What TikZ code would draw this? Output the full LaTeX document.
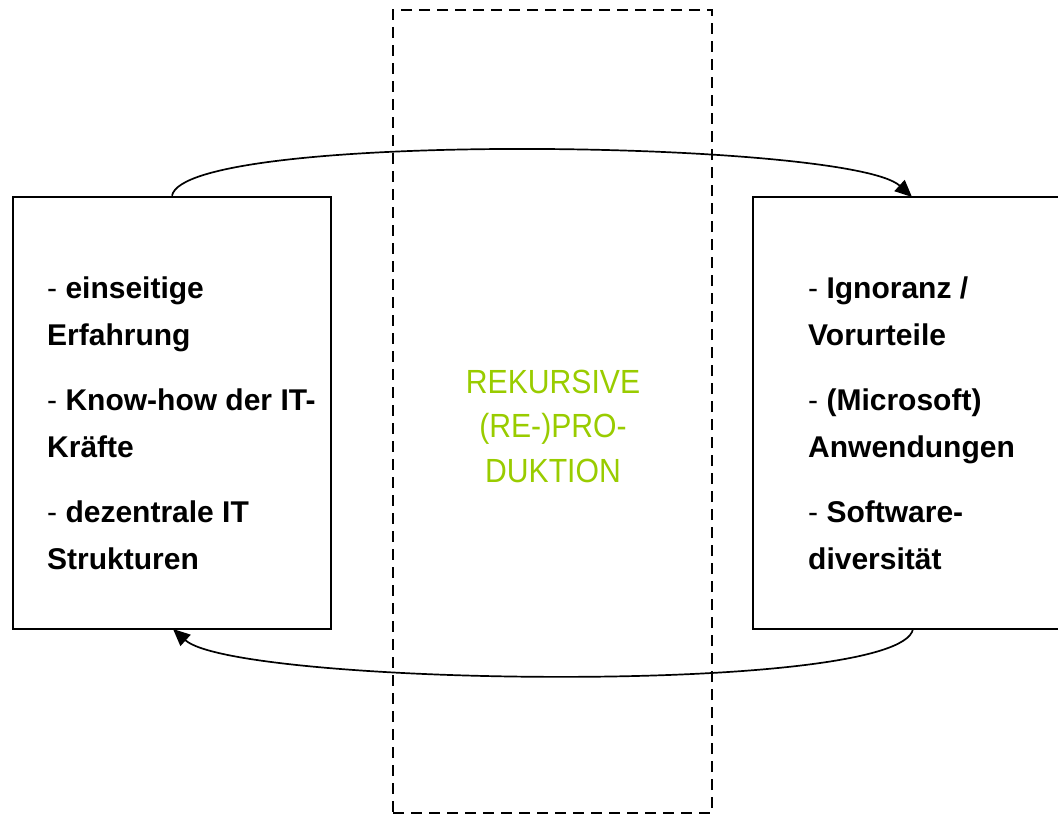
\documentclass[tikz,border=0pt]{standalone}
\usepackage{fontspec}
\setmainfont{Liberation Sans}
\newfontfamily\greenfont[FakeStretch=0.9]{Liberation Sans}
\usetikzlibrary{arrows.meta}
\definecolor{lime}{HTML}{99CC00}
\begin{document}
\begin{tikzpicture}[x=1pt,y=-1pt,
  box/.style={draw,line width=2.6pt,minimum width=318pt,minimum height=432pt,inner sep=0pt},
  frame/.style={draw,line width=2.8pt,dash pattern=on 11pt off 7pt,minimum width=319pt,minimum height=803pt,inner sep=0pt},
  itemtext/.style={font=\fontsize{30}{47}\selectfont\bfseries,align=left,inner sep=0pt,anchor=base west},
  reko/.style={font=\greenfont\fontsize{33.5}{44.5}\selectfont,text=lime,align=center,inner sep=0pt,anchor=base},
  arc/.style={line width=1.7pt,-{Triangle[length=17pt,width=15pt]}}]
\useasboundingbox (0,0) rectangle (1058,816);
\node[frame] (M) at (552.5,411.5) {};
\node[box] (L) at (172,413) {};
\node[box,minimum width=330pt] (R) at (918,413) {};
\coordinate (Rtop) at (912,197);
\coordinate (Lbot) at (173,629);
\coordinate (Rbot) at (913,629);
\node[itemtext] (l1) at (47,345) {\textmd{-} einseitige\\Erfahrung};
\node[itemtext] (l2) at (47,457) {\textmd{-} Know-how der IT-\\Kräfte};
\node[itemtext] (l3) at (47,569) {\textmd{-} dezentrale IT\\Strukturen};
\node[itemtext] (r1) at (808,345) {\textmd{-} Ignoranz /\\Vorurteile};
\node[itemtext] (r2) at (808,457) {\textmd{-} (Microsoft)\\Anwendungen};
\node[itemtext] (r3) at (808,569) {\textmd{-} Software-\\diversität};
\node[reko] (T) at (553,482) {REKURSIVE\\(RE-)PRO-\\DUKTION};
\draw[arc] (L.north) .. controls (185,130) and (850,140) .. (Rtop);
\draw[arc] (Rbot) .. controls (901,696) and (236,686) .. (Lbot);
\end{tikzpicture}
\end{document}
